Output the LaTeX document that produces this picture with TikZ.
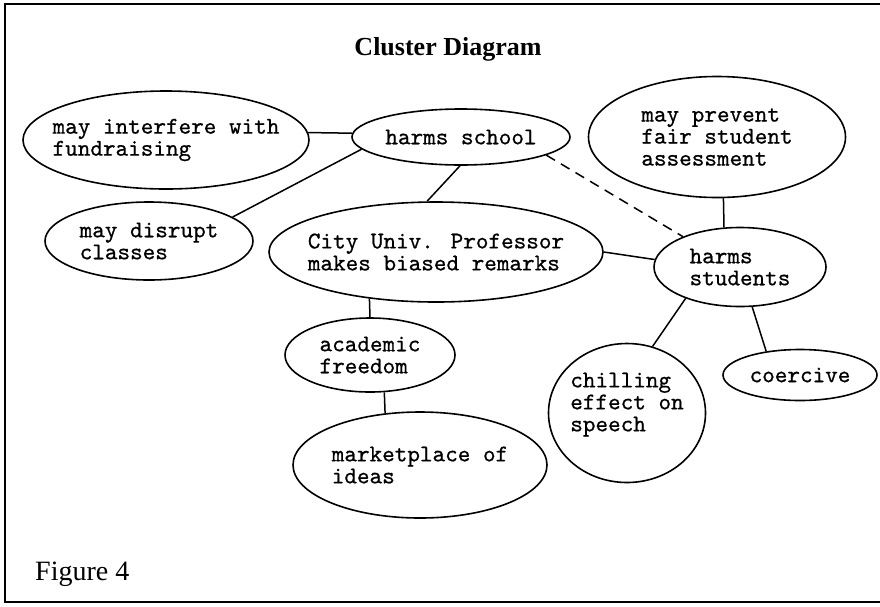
\documentclass[tikz,border=0pt]{standalone}
\usepackage{fontspec}
\setmainfont{Liberation Serif}
\newfontfamily\ideafont{lmmono10-regular.otf}[FakeBold=0.7]
\usetikzlibrary{shapes.geometric}

\begin{document}
\begin{tikzpicture}[
    x=1pt, y=-1pt,
    idea/.style={ellipse, draw, line width=1.6pt, inner sep=-20pt, align=left, font=\ideafont\fontsize{24}{22}\selectfont},
    link/.style={line width=1.5pt},
    weak/.style={link, dash pattern=on 10pt off 7pt}
]
    \useasboundingbox (0,0) rectangle (880,606);
    % Frame
    \draw[line width=2.5pt] (880,4) -- (5,4) -- (5,602) -- (880,602);

    % Captions
    \node[font=\bfseries\fontsize{26}{26}\selectfont, anchor=base] (title) at (448,55) {Cluster Diagram};
    \node[font=\fontsize{28}{28}\selectfont, anchor=base west, inner sep=0pt] (fig) at (35,580) {Figure 4};

    % Ideas
    \node[idea, minimum width=286pt, minimum height=98pt] (fund) at (166,140) {may interfere with\\fundraising};
    \node[idea, minimum width=218pt, minimum height=56pt] (school) at (461,137) {harms school};
    \node[idea, minimum width=257pt, minimum height=121pt] (assess) at (717,137) {may prevent\\fair student\\assessment};
    \node[idea, minimum width=208pt, minimum height=78pt] (classes) at (149,241) {may disrupt\\classes};
    \node[idea, minimum width=334pt, minimum height=100pt] (prof) at (436,252) {City Univ. Professor\\makes biased remarks};
    \node[idea, minimum width=172pt, minimum height=79pt] (students) at (740,267) {harms\\students};
    \node[idea, minimum width=170pt, minimum height=74pt] (freedom) at (370,355) {academic\\freedom};
    \node[idea, minimum width=254pt, minimum height=106pt] (market) at (420,465) {marketplace of\\ideas};
    \node[idea, minimum width=157pt, minimum height=139pt] (chill) at (627,413) {chilling\\effect on\\speech\\\mbox{}};
    \node[idea, minimum width=154pt, minimum height=51pt] (coerce) at (800,375) {coercive};

    % Links
    \draw[link] (fund.3) -- (school.178);
    \draw[link] (school.187) -- (classes.16);
    \draw[link] (school.268) -- (prof.100);
    \draw[weak] (school.348) -- (students.152);
    \draw[link] (assess.276) -- (students.112);
    \draw[link] (prof.0) -- (students.175);
    \draw[link] (prof.215) -- (freedom.north);
    \draw[link] (freedom.291) -- (market.124);
    \draw[link] (students.210) -- (chill.69);
    \draw[link] (students.287) -- (coerce.145);
\end{tikzpicture}
\end{document}
